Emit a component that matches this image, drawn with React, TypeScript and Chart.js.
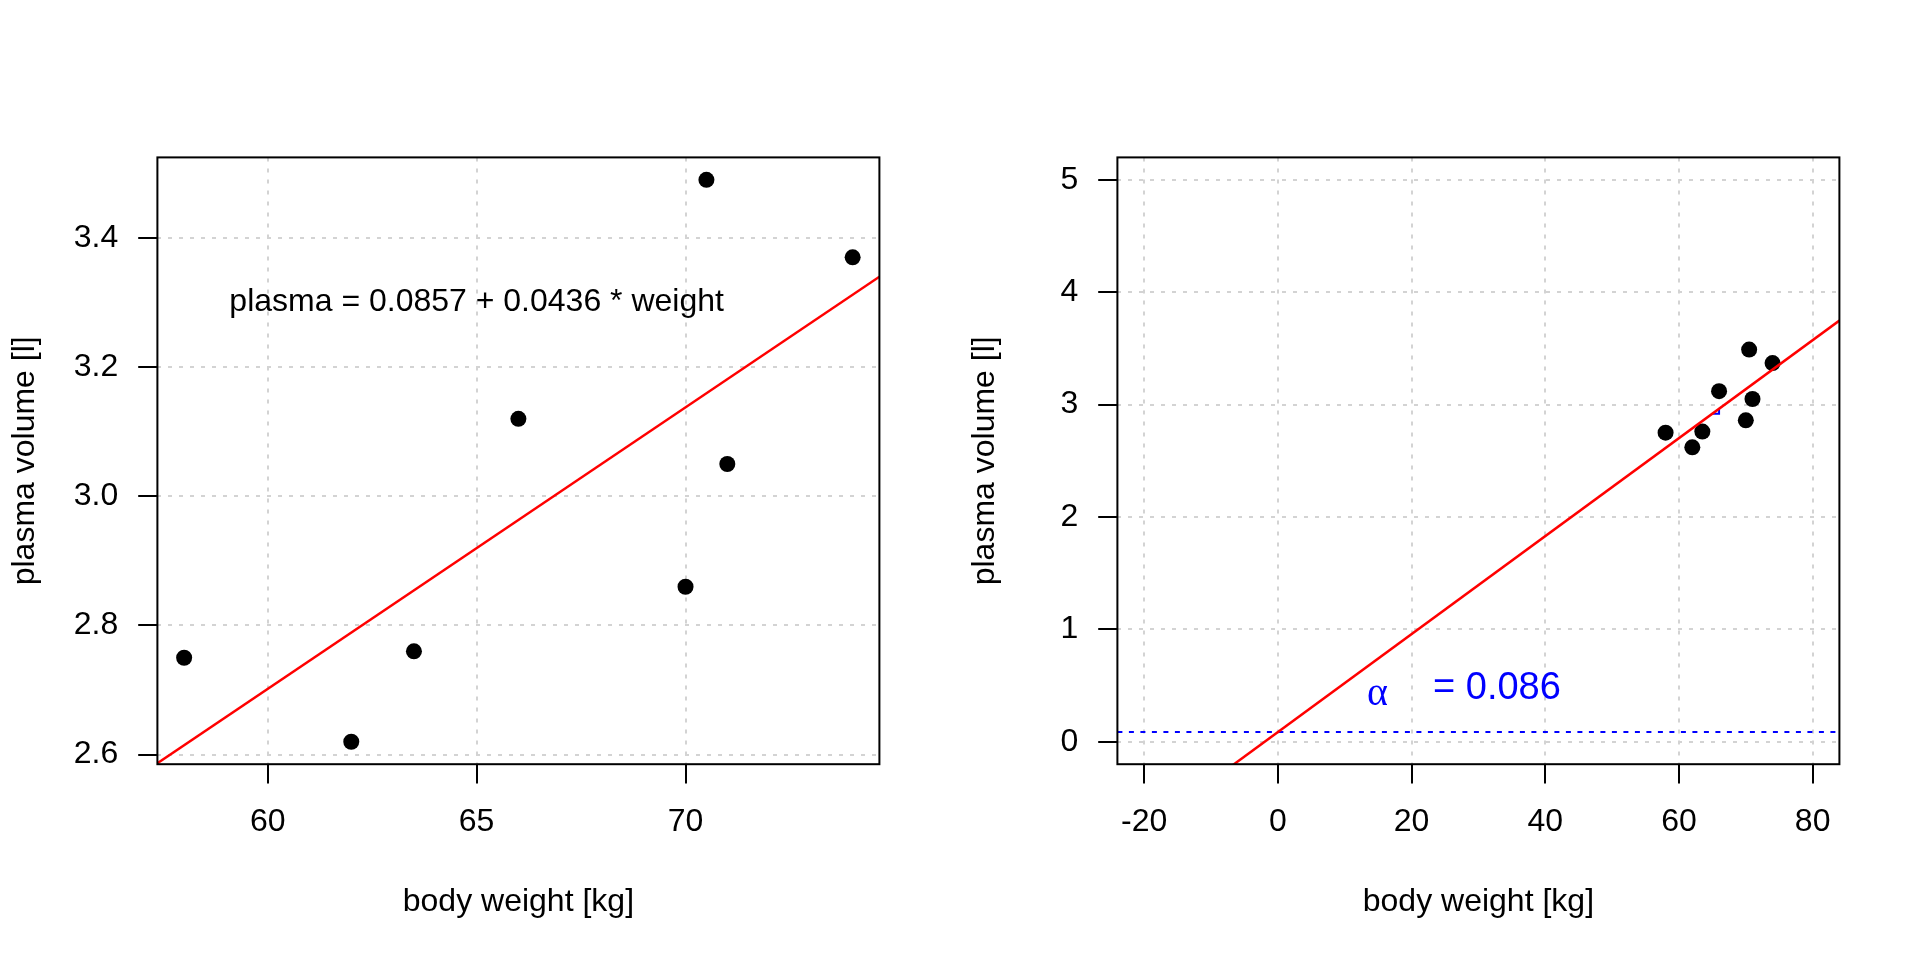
import React, { useEffect, useRef } from "react";
import { Chart, registerables } from "chart.js";

Chart.register(...registerables);

// ---- data ----
const WEIGHT = [58, 70, 74, 63.5, 62, 70.5, 71, 66];
const PLASMA = [2.75, 2.86, 3.37, 2.76, 2.62, 3.49, 3.05, 3.12];
const INTERCEPT = 0.0857;
const SLOPE = 0.0436;

const LEFT_X_RANGE = [57.36, 74.64];
const LEFT_Y_RANGE = [2.5852, 3.5248];
const LEFT_X_TICKS = [60, 65, 70];
const LEFT_X_LABELS = ["60", "65", "70"];
const LEFT_Y_TICKS = [2.6, 2.8, 3.0, 3.2, 3.4];
const LEFT_Y_LABELS = ["2.6", "2.8", "3.0", "3.2", "3.4"];

const RIGHT_X_RANGE = [-24, 84];
const RIGHT_Y_RANGE = [-0.2, 5.2];
const RIGHT_X_TICKS = [-20, 0, 20, 40, 60, 80];
const RIGHT_X_LABELS = ["-20", "0", "20", "40", "60", "80"];
const RIGHT_Y_TICKS = [0, 1, 2, 3, 4, 5];
const RIGHT_Y_LABELS = ["0", "1", "2", "3", "4", "5"];

const EQUATION_TEXT = "plasma = 0.0857 + 0.0436 * weight";
const EQUATION_POS = [65, 3.3];
const ALPHA_VALUE_TEXT = "= 0.086";
const ALPHA_POS = [28, 0.48];
const SLOPE_TRIANGLE_X = [65, 66];

const X_TITLE = "body weight [kg]";
const Y_TITLE = "plasma volume [l]";

const SANS = "'Liberation Sans', Arial, Helvetica, sans-serif";
const SERIF = "'Liberation Serif', 'DejaVu Serif', serif";

const reg = (x: number) => INTERCEPT + SLOPE * x;

type Panel = {
  xRange: number[];
  yRange: number[];
  xTicks: number[];
  xLabels: string[];
  yTicks: number[];
  yLabels: string[];
  right: boolean;
};

function makeConfig(p: Panel): any {
  const points = WEIGHT.map((w, i) => ({ x: w, y: PLASMA[i] }));
  const datasets: any[] = [
    {
      data: [
        { x: p.xRange[0], y: reg(p.xRange[0]) },
        { x: p.xRange[1], y: reg(p.xRange[1]) },
      ],
      showLine: true,
      borderColor: "#FF0000",
      borderWidth: 2.5,
      pointRadius: 0,
      clip: 0,
    },
  ];
  if (p.right) {
    const y0 = reg(SLOPE_TRIANGLE_X[0]);
    datasets.push({
      data: [
        { x: SLOPE_TRIANGLE_X[0], y: y0 },
        { x: SLOPE_TRIANGLE_X[1], y: y0 },
        { x: SLOPE_TRIANGLE_X[1], y: reg(SLOPE_TRIANGLE_X[1]) },
      ],
      showLine: true,
      borderColor: "#0000FF",
      borderWidth: 2,
      pointRadius: 0,
      clip: 0,
    });
    datasets.push({
      data: [
        { x: p.xRange[0], y: INTERCEPT },
        { x: p.xRange[1], y: INTERCEPT },
      ],
      showLine: true,
      borderColor: "#0000FF",
      borderWidth: 2,
      borderDash: [5, 6.5],
      pointRadius: 0,
      clip: 0,
    });
  }
  datasets.push({
    data: points,
    backgroundColor: "#000000",
    borderWidth: 0,
    pointRadius: 8,
    pointHoverRadius: 8,
    clip: 0,
  });

  const tickFont = { family: SANS, size: 32 };
  const annot = {
    id: "annot" + (p.right ? "R" : "L"),
    afterDatasetsDraw(chart: any) {
      const { ctx, chartArea: a, scales } = chart;
      ctx.save();
      ctx.strokeStyle = "#000000";
      ctx.lineWidth = 2;
      ctx.strokeRect(a.left, a.top, a.right - a.left, a.bottom - a.top);
      if (!p.right) {
        ctx.fillStyle = "#000000";
        ctx.font = `32px ${SANS}`;
        ctx.textAlign = "center";
        ctx.textBaseline = "middle";
        ctx.fillText(
          EQUATION_TEXT,
          scales.x.getPixelForValue(EQUATION_POS[0]),
          scales.y.getPixelForValue(EQUATION_POS[1])
        );
      } else {
        const cx = scales.x.getPixelForValue(ALPHA_POS[0]);
        const cy = scales.y.getPixelForValue(ALPHA_POS[1]);
        ctx.fillStyle = "#0000FF";
        ctx.textBaseline = "alphabetic";
        ctx.textAlign = "left";
        ctx.font = `40px ${SERIF}`;
        ctx.fillText("\u03B1", cx - 98, cy + 17.5);
        ctx.font = `38px ${SANS}`;
        ctx.fillText(ALPHA_VALUE_TEXT, cx - 32, cy + 11.6);
      }
      ctx.restore();
    },
  };

  return {
    type: "scatter",
    data: { datasets },
    plugins: [annot],
    options: {
      animation: false,
      responsive: false,
      devicePixelRatio: 1,
      events: [],
      layout: { padding: { top: 157.4, right: 80.6, left: 0, bottom: 0 } },
      plugins: { legend: { display: false }, tooltip: { enabled: false } },
      scales: {
        x: {
          type: "linear",
          min: p.xRange[0],
          max: p.xRange[1],
          afterBuildTicks: (axis: any) => {
            axis.ticks = p.xTicks.map((v) => ({ value: v }));
          },
          afterFit: (axis: any) => {
            axis.height = 195.8;
          },
          grid: {
            color: "#D3D3D3",
            lineWidth: 2,
            drawTicks: true,
            tickLength: 19.2,
            tickColor: "#000000",
            tickWidth: 2,
          },
          border: { display: false, dash: [4, 7] },
          ticks: {
            autoSkip: false,
            maxRotation: 0,
            color: "#000000",
            font: tickFont,
            padding: 19.5,
            callback: (_v: any, i: number) => p.xLabels[i],
          },
          title: {
            display: true,
            text: X_TITLE,
            color: "#000000",
            font: tickFont,
            padding: { top: 0, bottom: 38.5 },
          },
        },
        y: {
          type: "linear",
          min: p.yRange[0],
          max: p.yRange[1],
          afterBuildTicks: (axis: any) => {
            axis.ticks = p.yTicks.map((v) => ({ value: v }));
          },
          afterFit: (axis: any) => {
            axis.width = 157.4;
          },
          grid: {
            color: "#D3D3D3",
            lineWidth: 2,
            drawTicks: true,
            tickLength: 19.2,
            tickColor: "#000000",
            tickWidth: 2,
          },
          border: { display: false, dash: [4, 7] },
          ticks: {
            autoSkip: false,
            color: "#000000",
            font: tickFont,
            padding: 20,
            callback: (_v: any, i: number) => p.yLabels[i],
          },
          title: {
            display: true,
            text: Y_TITLE,
            color: "#000000",
            font: tickFont,
            padding: { top: 5.5, bottom: 0 },
          },
        },
      },
    },
  };
}

function PanelChart({ panel }: { panel: Panel }) {
  const ref = useRef<HTMLCanvasElement | null>(null);
  useEffect(() => {
    if (!ref.current) return;
    const chart = new Chart(ref.current, makeConfig(panel));
    return () => chart.destroy();
  }, [panel]);
  return <canvas ref={ref} width={960} height={960} style={{ width: 960, height: 960, display: "block" }} />;
}

const LEFT_PANEL: Panel = {
  xRange: LEFT_X_RANGE,
  yRange: LEFT_Y_RANGE,
  xTicks: LEFT_X_TICKS,
  xLabels: LEFT_X_LABELS,
  yTicks: LEFT_Y_TICKS,
  yLabels: LEFT_Y_LABELS,
  right: false,
};
const RIGHT_PANEL: Panel = {
  xRange: RIGHT_X_RANGE,
  yRange: RIGHT_Y_RANGE,
  xTicks: RIGHT_X_TICKS,
  xLabels: RIGHT_X_LABELS,
  yTicks: RIGHT_Y_TICKS,
  yLabels: RIGHT_Y_LABELS,
  right: true,
};

export default function App() {
  useEffect(() => {
    document.body.style.margin = "0";
    document.body.style.background = "#ffffff";
  }, []);
  return (
    <div style={{ position: "fixed", left: 0, top: 0, width: 1920, height: 960, display: "flex", background: "#ffffff" }}>
      <PanelChart panel={LEFT_PANEL} />
      <PanelChart panel={RIGHT_PANEL} />
    </div>
  );
}
